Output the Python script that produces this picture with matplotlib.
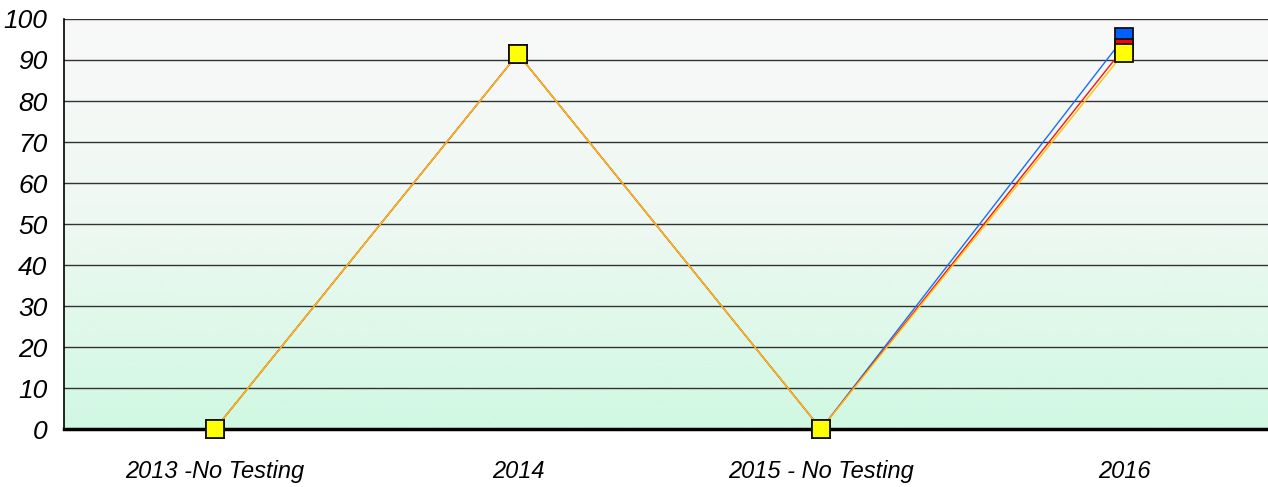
import matplotlib.pyplot as plt
import numpy as np
from matplotlib.colors import LinearSegmentedColormap

#Data
categories = ["2013 -No Testing", "2014", "2015 - No Testing", "2016"]
blue_vals = [0, 91.5, 0, 95.5]
red_vals = [0, 91.5, 0, 93]
yellow_vals = [0, 91.5, 0, 91.8]
yticks = list(range(0, 101, 10))

plt.rcParams['font.family'] = ['Liberation Sans', 'DejaVu Sans']

fig = plt.figure(figsize=(12.68, 4.87), dpi=100)
ax = fig.add_axes([0.0505, 0.119, 0.9495, 0.842])

#Gradient background
cmap = LinearSegmentedColormap.from_list("bg", ["#d0f8e2", "#eef8f2", "#f9f9f9"])
grad = np.linspace(0, 1, 256).reshape(-1, 1)
ax.imshow(grad, aspect='auto', cmap=cmap, origin='lower',
          extent=[0, 1, 0, 1], transform=ax.transAxes, zorder=0)

x = np.arange(len(categories))
for y in yticks[1:]:
    ax.axhline(y, color='#333333', lw=1.0, zorder=1)

ax.plot(x, blue_vals, color='#1a6cff', lw=1, marker='s', ms=12.5,
        mfc='#0060ff', mec='#111111', mew=1.3, zorder=3, clip_on=False)
ax.plot(x, red_vals, color='#ff1010', lw=1, marker='s', ms=12.5,
        mfc='#ff0000', mec='#111111', mew=1.3, zorder=4, clip_on=False)
ax.plot(x, yellow_vals, color='#ffc400', lw=1, marker='s', ms=12.5,
        mfc='#ffff00', mec='#111111', mew=1.3, zorder=5, clip_on=False)

ax.set_xlim(-0.498, 3.475)
ax.set_ylim(0, 100)
ax.set_yticks(yticks)
ax.set_yticklabels([str(v) for v in yticks], fontsize=19, style='italic')
ax.set_xticks(x)
ax.set_xticklabels(categories, fontsize=17, style='italic')
ax.tick_params(axis='both', length=0)
ax.tick_params(axis='x', pad=22)
ax.tick_params(axis='y', pad=12)

for s in ['top', 'right']:
    ax.spines[s].set_visible(False)
ax.spines['left'].set_linewidth(1.2)
ax.spines['bottom'].set_linewidth(2.5)
ax.spines['left'].set_zorder(6)
ax.spines['bottom'].set_zorder(2)

fig.savefig("out.png", dpi=100)
